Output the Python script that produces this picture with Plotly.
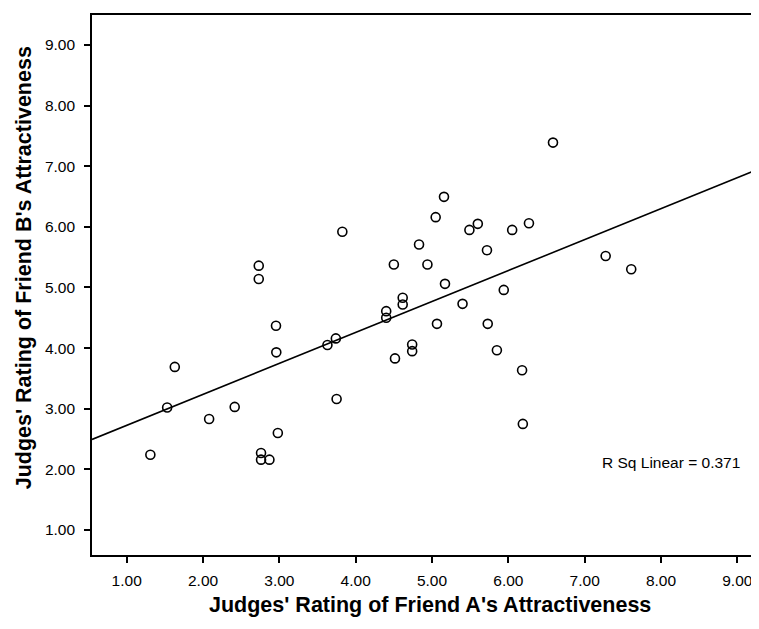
import numpy as np
import plotly.graph_objects as go

friend_a = [1.31, 1.53, 1.63, 2.08, 2.415, 2.73, 2.73, 2.76, 2.76, 2.87,
            2.956, 2.96, 2.98, 3.63, 3.74, 3.75, 3.825, 4.40, 4.40, 4.515,
            4.50, 4.616, 4.616, 4.74, 4.74, 4.83, 4.94, 5.048, 5.065, 5.157,
            5.17, 5.40, 5.49, 5.60, 5.72, 5.73, 5.85, 5.94, 6.05, 6.18,
            6.19, 6.27, 6.585, 7.275, 7.61]
friend_b = [2.24, 3.02, 3.69, 2.83, 3.03, 5.36, 5.14, 2.27, 2.16, 2.16,
            4.37, 3.93, 2.60, 4.05, 4.16, 3.16, 5.92, 4.61, 4.50, 3.83,
            5.38, 4.83, 4.72, 4.06, 3.95, 5.71, 5.38, 6.16, 4.40, 6.495,
            5.06, 4.73, 5.95, 6.05, 5.615, 4.40, 3.965, 4.96, 5.95, 3.635,
            2.75, 6.06, 7.39, 5.52, 5.30]
x_ticks = [1, 2, 3, 4, 5, 6, 7, 8, 9]
y_ticks = [1, 2, 3, 4, 5, 6, 7, 8, 9]
x_title = "Judges' Rating of Friend A's Attractiveness"
y_title = "Judges' Rating of Friend B's Attractiveness"
r_sq_label = "R Sq Linear = 0.371"

x_range = [0.5454, 9.284]
y_range = [0.587, 9.495]

slope, intercept = np.polyfit(friend_a, friend_b, 1)
fit_x = np.array(x_range)
fit_y = intercept + slope * fit_x

FONT = "Liberation Sans, Arial"

fig = go.Figure()
fig.add_trace(go.Scatter(
    x=fit_x, y=fit_y, mode="lines",
    line=dict(color="black", width=1.6), hoverinfo="skip", showlegend=False))
fig.add_trace(go.Scatter(
    x=friend_a, y=friend_b, mode="markers",
    marker=dict(symbol="circle-open", size=9, color="black", line=dict(width=1.6)),
    showlegend=False))

fig.add_annotation(
    x=9.061, y=2.106, xref="x", yref="y", xanchor="right", yanchor="middle",
    text=r_sq_label, showarrow=False,
    font=dict(family=FONT, size=15.5, color="black"))
fig.add_annotation(
    x=(430 - 92) / 667, y=-0.093, xref="paper", yref="paper",
    xanchor="center", yanchor="middle",
    text="<b>" + x_title + "</b>", showarrow=False,
    font=dict(family=FONT, size=21.5, color="black"))
fig.add_annotation(
    x=(24 - 92) / 667, y=0.531, xref="paper", yref="paper",
    xanchor="center", yanchor="middle",
    text="<b>" + y_title + "</b>", showarrow=False, textangle=-90,
    font=dict(family=FONT, size=21.5, color="black"))

fig.update_xaxes(
    range=x_range, tickvals=x_ticks, tickformat=".2f", automargin=False,
    showline=True, linecolor="black", linewidth=1.6, mirror=True,
    ticks="outside", ticklen=6, tickwidth=1.5, tickcolor="black",
    ticklabelstandoff=5, ticklabeloverflow="allow",
    showgrid=False, zeroline=False,
    tickfont=dict(family=FONT, size=15.5, color="black"))
fig.update_yaxes(
    range=y_range, tickvals=y_ticks, tickformat=".2f", automargin=False,
    showline=True, linecolor="black", linewidth=1.6,
    ticks="outside", ticklen=6, tickwidth=1.5, tickcolor="black",
    ticklabelstandoff=6, ticklabeloverflow="allow",
    showgrid=False, zeroline=False,
    tickfont=dict(family=FONT, size=15.5, color="black"))

fig.update_layout(
    width=751, height=613,
    margin=dict(l=84, r=0, t=7, b=66),
    paper_bgcolor="white", plot_bgcolor="white",
    font=dict(family=FONT, color="black"))

fig.write_html("out.html")
